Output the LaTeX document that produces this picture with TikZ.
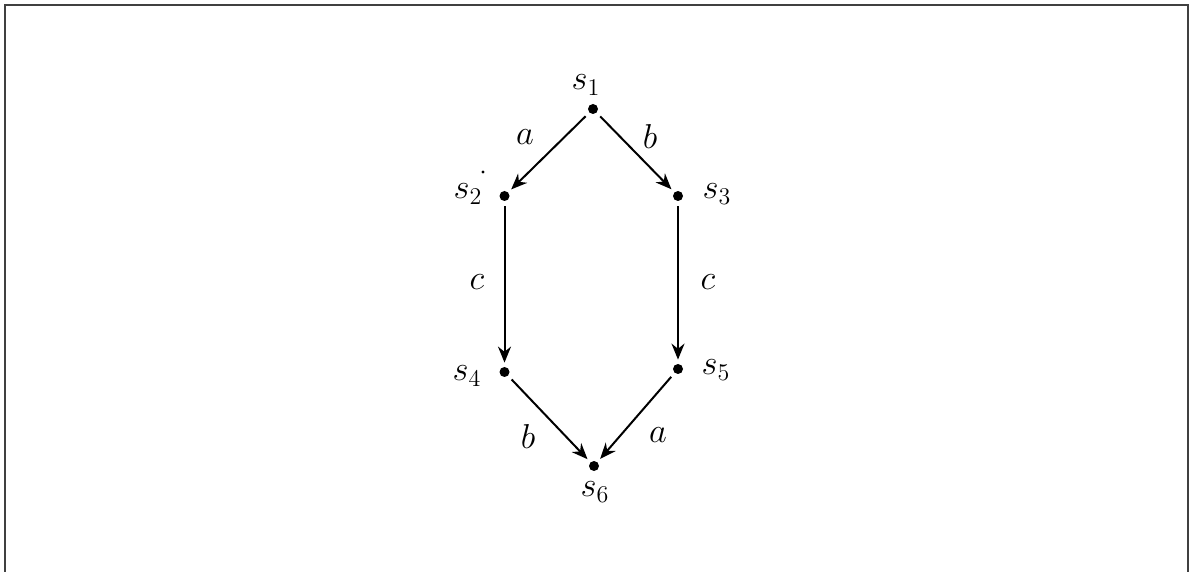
\documentclass[tikz,border=0pt]{standalone}
\usetikzlibrary{arrows.meta}
\begin{document}
\begin{tikzpicture}[x=0.5pt,y=-0.5pt,
  state/.style={circle,fill=black,inner sep=0pt,minimum size=5pt},
  tr/.style={-{Stealth[length=8pt,width=6.5pt]},line width=1pt,shorten <=2.5pt,shorten >=2pt},
  lbl/.style={font=\fontsize{16.5}{19}\selectfont,inner sep=0pt}]
\useasboundingbox (0,0) rectangle (1195,572);
\draw[line width=0.8pt,black!75] (5,572) -- (5,5) -- (1188,5) -- (1188,572);
\node[state] (s1) at (593,109) {};
\node[state] (s2) at (504.5,196) {};
\node[state] (s3) at (678,196) {};
\node[state] (s4) at (504.5,372) {};
\node[state] (s5) at (678,369) {};
\node[state] (s6) at (594,466) {};
\node[circle,fill=black,inner sep=0pt,minimum size=1.6pt] (dot) at (483,172) {};
\node[lbl] (l1) at (586,85) {$s_1$};
\node[lbl] (l2) at (468,194) {$s_2$};
\node[lbl] (l3) at (717,194) {$s_3$};
\node[lbl] (l4) at (467,376) {$s_4$};
\node[lbl] (l5) at (716,370) {$s_5$};
\node[lbl] (l6) at (595,492) {$s_6$};
\draw[tr] (s1) -- (s2);
\draw[tr] (s1) -- (s3);
\draw[tr] (s2) -- (s4);
\draw[tr] (s3) -- (s5);
\draw[tr] (s4) -- (s6);
\draw[tr] (s5) -- (s6);
\node[lbl] (ea) at (525,137) {$a$};
\node[lbl] (eb) at (650,137) {$b$};
\node[lbl] (ec1) at (477,282) {$c$};
\node[lbl] (ec2) at (708,282) {$c$};
\node[lbl] (eb2) at (528,436) {$b$};
\node[lbl] (ea2) at (658,435) {$a$};
\end{tikzpicture}
\end{document}
